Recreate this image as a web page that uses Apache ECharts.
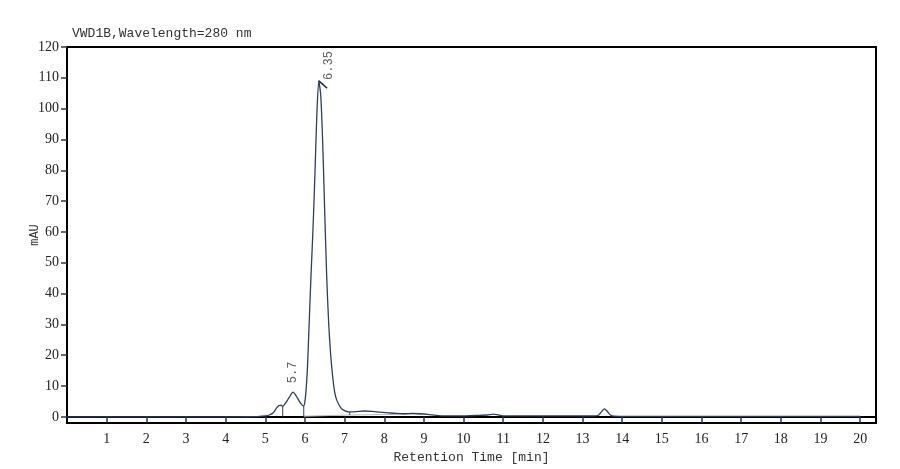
<!DOCTYPE html>
<html>
<head>
<meta charset="utf-8">
<title>VWD1B chromatogram</title>
<script src="https://cdn.jsdelivr.net/npm/echarts@6/dist/echarts.min.js"></script>
<style>
  html, body { margin: 0; padding: 0; background: #fff; }
  #chart { width: 900px; height: 469px; }
</style>
</head>
<body>
<div id="chart"></div>
<script>
// trace (time in min, signal in mAU)
var times = [0, 1, 2, 3, 4, 4.5, 4.8, 5.0, 5.1, 5.2, 5.28, 5.35, 5.4, 5.44, 5.5, 5.6, 5.7, 5.78, 5.86, 5.93, 5.97,
  6.0, 6.03, 6.06, 6.1, 6.15, 6.2, 6.25, 6.3, 6.35, 6.4, 6.45, 6.5, 6.55, 6.6, 6.65, 6.7, 6.75, 6.8, 6.9, 7.0,
  7.1, 7.2, 7.35, 7.5, 7.7, 7.9, 8.1, 8.3, 8.5, 8.7, 8.9, 9.1, 9.3, 9.5, 10.0, 10.4, 10.6, 10.75, 10.85, 11.0,
  12.0, 13.3, 13.4, 13.48, 13.55, 13.62, 13.7, 13.8, 14.0, 15.0, 17.0, 20.0];
var signal = [0, 0, 0, 0, 0, 0.02, 0.1, 0.3, 0.6, 1.3, 2.8, 3.7, 3.8, 3.4, 4.3, 6.2, 8.0, 6.8, 5.0, 3.8, 3.6,
  5.0, 9, 15, 28, 45, 60, 78, 98, 109, 104, 88, 66, 45, 30, 20, 13, 8, 5.5, 3.0, 2.0,
  1.6, 1.6, 1.8, 1.9, 1.8, 1.5, 1.3, 1.1, 1.0, 1.1, 1.0, 0.8, 0.5, 0.3, 0.3, 0.5, 0.6, 0.9, 0.7, 0.3,
  0.3, 0.3, 0.5, 1.7, 2.6, 1.8, 0.6, 0.2, 0.15, 0.15, 0.15, 0.15];

// integration baseline under the main peak
var baseTimes = [5.97, 7.13, 9.0];
var baseSignal = [0.2, 0.6, 0.9];

// peak delimiters
var dropTimes = [5.44, 5.97, 7.13];
var dropLow = [0.0, 0.2, 0.6];
var dropHigh = [3.4, 3.6, 1.6];

// peak labels
var peakNames = ['5.7', '6.35'];
var peakTimes = [5.7, 6.35];
var peakSignal = [8.0, 109];
var apexTick = [[6.35, 109], [6.56, 106.6]];

var xTicks = [1, 2, 3, 4, 5, 6, 7, 8, 9, 10, 11, 12, 13, 14, 15, 16, 17, 18, 19, 20];
var yTicks = [0, 10, 20, 30, 40, 50, 60, 70, 80, 90, 100, 110, 120];

var myChart = echarts.init(document.getElementById('chart'));

var serif = 'Liberation Serif';
var mono = 'Liberation Mono';
var traceColor = '#2f3d5c';

function zip(a, b) {
  return a.map(function (v, i) { return [v, b[i]]; });
}

var series = [{
  type: 'line',
  data: zip(times, signal),
  showSymbol: false,
  smooth: 0.25,
  lineStyle: { color: traceColor, width: 1.3 },
  z: 3
}, {
  type: 'line',
  data: zip(baseTimes, baseSignal),
  showSymbol: false,
  lineStyle: { color: '#b9b9b9', width: 1 },
  z: 2
}, {
  type: 'line',
  data: apexTick,
  showSymbol: false,
  lineStyle: { color: '#1c2233', width: 1.5 },
  z: 4
}, {
  type: 'scatter',
  symbolSize: 0,
  data: peakNames.map(function (n, i) {
    return { name: n, value: [peakTimes[i], peakSignal[i]] };
  }),
  label: {
    show: true,
    formatter: '{b}',
    rotate: 90,
    align: 'left',
    verticalAlign: 'middle',
    fontFamily: mono,
    fontSize: 12,
    color: '#333'
  },
  z: 5
}];

// first label sits straight above its apex, second beside the apex tick
series[3].data[0].label = { position: [0, -9] };
series[3].data[1].label = { position: [10, -1] };

dropTimes.forEach(function (t, i) {
  series.push({
    type: 'line',
    data: [[t, dropLow[i]], [t, dropHigh[i]]],
    showSymbol: false,
    lineStyle: { color: traceColor, width: 1 },
    z: 3
  });
});

var option = {
  backgroundColor: '#fff',
  animation: false,
  title: {
    text: 'VWD1B,Wavelength=280 nm',
    left: 72,
    top: 27,
    padding: 0,
    textStyle: { fontFamily: mono, fontSize: 13, fontWeight: 'normal', color: '#333' }
  },
  grid: {
    left: 67, top: 47, width: 809, height: 376,
    show: true, borderColor: '#000', borderWidth: 2, backgroundColor: '#fff'
  },
  xAxis: {
    type: 'value',
    min: 0,
    max: 20.4,
    name: 'Retention Time [min]',
    nameLocation: 'middle',
    nameGap: 27,
    nameTextStyle: { fontFamily: mono, fontSize: 13, color: '#333' },
    axisLine: { lineStyle: { color: '#000', width: 2 } },
    axisTick: { customValues: xTicks, length: 6, lineStyle: { color: '#2b3a55', width: 1.5 } },
    axisLabel: { customValues: xTicks, margin: 9, fontFamily: serif, fontSize: 14, color: '#222' },
    splitLine: { show: false }
  },
  yAxis: {
    type: 'value',
    min: -2,
    max: 120,
    name: 'mAU',
    nameLocation: 'middle',
    nameRotate: 90,
    nameGap: 26,
    nameMoveOverlap: false,
    nameTextStyle: { fontFamily: mono, fontSize: 12, color: '#333' },
    axisLine: { lineStyle: { color: '#000', width: 2 } },
    axisTick: { customValues: yTicks, length: 6, lineStyle: { color: '#2b3a55', width: 1.5 } },
    axisLabel: { customValues: yTicks, margin: 8, fontFamily: serif, fontSize: 14, color: '#222' },
    splitLine: { show: false }
  },
  series: series
};

myChart.setOption(option);
</script>
</body>
</html>
